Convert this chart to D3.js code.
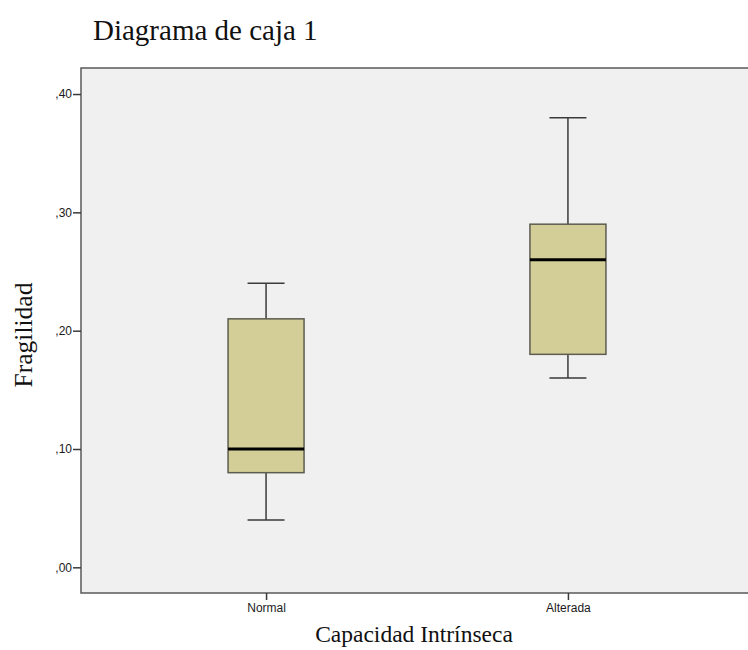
<!DOCTYPE html>
<html>
<head>
<meta charset="utf-8">
<script src="https://cdn.jsdelivr.net/npm/d3@7"></script>
<style>
  body { margin: 0; background: #fff; }
  svg { display: block; }
</style>
</head>
<body>
<div id="chart"></div>
<script>
// data
var groups = ["Normal", "Alterada"];
var mins = [0.04, 0.16];
var q1s = [0.08, 0.18];
var medians = [0.10, 0.26];
var q3s = [0.21, 0.29];
var maxs = [0.24, 0.38];
var yTicks = [0, 0.1, 0.2, 0.3, 0.4];

var width = 748, height = 650;
var plot = { left: 81, top: 68, right: 753, bottom: 593 };

var svg = d3.select("#chart").append("svg")
    .attr("width", width)
    .attr("height", height);

var x = d3.scalePoint()
    .domain(groups)
    .range([plot.left, plot.right])
    .padding(0.613);

var y = d3.scaleLinear()
    .domain([-0.0217, 0.422])
    .range([plot.bottom, plot.top]);

// plot background + frame (right side runs past the page edge)
svg.append("rect")
    .attr("x", plot.left)
    .attr("y", plot.top)
    .attr("width", plot.right - plot.left)
    .attr("height", plot.bottom - plot.top)
    .attr("fill", "#f0f0f0")
    .attr("stroke", "#5a5a5a")
    .attr("stroke-width", 1.5);

var boxW = 76, capW = 37;

var box = svg.selectAll(".box")
    .data(groups)
    .enter()
    .append("g")
    .attr("class", "box");

// whiskers
box.append("line")
    .attr("x1", function (d) { return x(d); })
    .attr("x2", function (d) { return x(d); })
    .attr("y1", function (d, i) { return y(maxs[i]); })
    .attr("y2", function (d, i) { return y(q3s[i]); })
    .attr("stroke", "#3a3a3a").attr("stroke-width", 1.5);
box.append("line")
    .attr("x1", function (d) { return x(d); })
    .attr("x2", function (d) { return x(d); })
    .attr("y1", function (d, i) { return y(q1s[i]); })
    .attr("y2", function (d, i) { return y(mins[i]); })
    .attr("stroke", "#3a3a3a").attr("stroke-width", 1.5);
box.append("line")
    .attr("x1", function (d) { return x(d) - capW / 2; })
    .attr("x2", function (d) { return x(d) + capW / 2; })
    .attr("y1", function (d, i) { return y(maxs[i]); })
    .attr("y2", function (d, i) { return y(maxs[i]); })
    .attr("stroke", "#3a3a3a").attr("stroke-width", 1.5);
box.append("line")
    .attr("x1", function (d) { return x(d) - capW / 2; })
    .attr("x2", function (d) { return x(d) + capW / 2; })
    .attr("y1", function (d, i) { return y(mins[i]); })
    .attr("y2", function (d, i) { return y(mins[i]); })
    .attr("stroke", "#3a3a3a").attr("stroke-width", 1.5);

// boxes
box.append("rect")
    .attr("x", function (d) { return x(d) - boxW / 2; })
    .attr("y", function (d, i) { return y(q3s[i]); })
    .attr("width", boxW)
    .attr("height", function (d, i) { return y(q1s[i]) - y(q3s[i]); })
    .attr("fill", "#d3ce98")
    .attr("stroke", "#5c5c50")
    .attr("stroke-width", 1.5);

// medians
box.append("line")
    .attr("x1", function (d) { return x(d) - boxW / 2; })
    .attr("x2", function (d) { return x(d) + boxW / 2; })
    .attr("y1", function (d, i) { return y(medians[i]); })
    .attr("y2", function (d, i) { return y(medians[i]); })
    .attr("stroke", "#000").attr("stroke-width", 3);

// axes
var fmt = function (d) { return "," + d3.format(".2f")(d).split(".")[1]; };

var yAxis = svg.append("g")
    .attr("transform", "translate(" + plot.left + ",0)")
    .call(d3.axisLeft(y).tickValues(yTicks).tickFormat(fmt).tickSize(8).tickPadding(1));
yAxis.select(".domain").remove();

var xAxis = svg.append("g")
    .attr("transform", "translate(0," + plot.bottom + ")")
    .call(d3.axisBottom(x).tickSize(7).tickPadding(3));
xAxis.select(".domain").remove();

svg.selectAll(".tick line").attr("stroke", "#3a3a3a").attr("stroke-width", 1.5);
svg.selectAll(".tick text")
    .attr("font-family", "Liberation Sans, Arial, sans-serif")
    .attr("font-size", "12px")
    .attr("fill", "#1a1a1a");

// titles
svg.append("text")
    .attr("x", 93)
    .attr("y", 40)
    .attr("font-family", "Liberation Serif, Times New Roman, serif")
    .attr("font-size", "29px")
    .attr("fill", "#111")
    .text("Diagrama de caja 1");

svg.append("text")
    .attr("x", 414)
    .attr("y", 642)
    .attr("text-anchor", "middle")
    .attr("font-family", "Liberation Serif, Times New Roman, serif")
    .attr("font-size", "23.5px")
    .attr("fill", "#111")
    .text("Capacidad Intrínseca");

svg.append("text")
    .attr("transform", "translate(32,335) rotate(-90)")
    .attr("text-anchor", "middle")
    .attr("font-family", "Liberation Serif, Times New Roman, serif")
    .attr("font-size", "25.5px")
    .attr("fill", "#111")
    .text("Fragilidad");
</script>
</body>
</html>
